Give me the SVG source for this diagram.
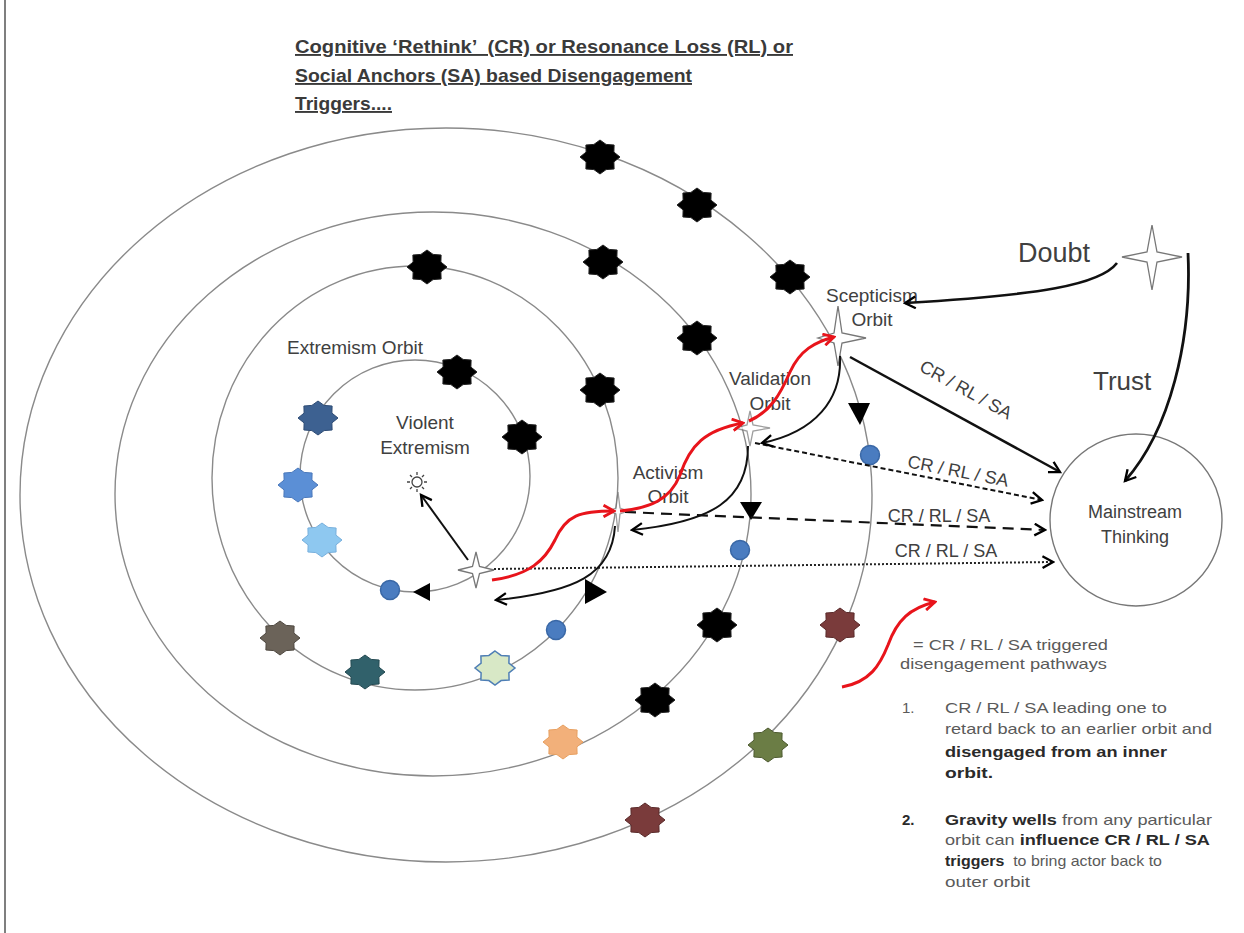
<svg xmlns="http://www.w3.org/2000/svg" xmlns:xlink="http://www.w3.org/1999/xlink" width="1244" height="933" viewBox="0 0 1244 933">
<style>
.orbit{fill:none;stroke:#8a8a8a;stroke-width:1.4}
.lbl{font-family:"Liberation Sans",Arial,sans-serif;fill:#404040}
.title{font-family:"Liberation Sans",Arial,sans-serif;font-weight:bold;font-size:19px;fill:#3a3a3a;text-decoration:underline}
.leg{font-family:"Liberation Sans",Arial,sans-serif;font-size:15px;fill:#5a5a5a}
.legb{font-weight:bold;fill:#2a2a2a}
.blk{fill:#000;stroke:#222;stroke-width:1}
.dot{fill:#4a7cc0;stroke:#3a68a6;stroke-width:1.5}
.tri{fill:#000}
.star4{fill:#fff;stroke:#777;stroke-width:1.3}
.red{fill:none;stroke:#e8141b;stroke-width:3;marker-end:url(#aRed)}
.ret{fill:none;stroke:#111;stroke-width:2;marker-end:url(#aBlk)}
</style>
<defs>
<path id="s8" d="M0,-17 L6.1,-12.6 L14.1,-12 L13.9,-4.9 L20,0 L13.9,4.9 L14.1,12 L6.1,12.6 L0,17 L-6.1,12.6 L-14.1,12 L-13.9,4.9 L-20,0 L-13.9,-4.9 L-14.1,-12 L-6.1,-12.6 Z"/>
<marker id="aBlk" viewBox="0 0 12 12" refX="10" refY="6" markerWidth="14" markerHeight="14" markerUnits="userSpaceOnUse" orient="auto">
<path d="M1,1 L10,6 L1,11" fill="none" stroke="#000" stroke-width="2"/>
</marker>
<marker id="aRed" viewBox="0 0 12 12" refX="10" refY="6" markerWidth="14" markerHeight="14" markerUnits="userSpaceOnUse" orient="auto">
<path d="M1,1 L10,6 L1,11" fill="none" stroke="#e8141b" stroke-width="2.4"/>
</marker>
</defs>
<rect x="0" y="0" width="1244" height="933" fill="#fff"/>
<line x1="5" y1="0" x2="5" y2="933" stroke="#555" stroke-width="1.5"/>

<g id="title">
<text class="title" x="295" y="53" textLength="498" lengthAdjust="spacingAndGlyphs" xml:space="preserve">Cognitive ‘Rethink’  (CR) or Resonance Loss (RL) or</text>
<text class="title" x="295" y="82" textLength="397" lengthAdjust="spacingAndGlyphs">Social Anchors (SA) based Disengagement</text>
<text class="title" x="295" y="110" textLength="97" lengthAdjust="spacingAndGlyphs">Triggers....</text>
</g>

<g id="scepticism-orbit">
<ellipse class="orbit" cx="446" cy="495" rx="426" ry="367"/>
<use href="#s8" x="600" y="157" class="blk"/>
<use href="#s8" x="697" y="205" class="blk"/>
<use href="#s8" x="790" y="277" class="blk"/>
<use href="#s8" x="840" y="625" fill="#7a3b3b" stroke="#5a2a2a"/>
<use href="#s8" x="768" y="745" fill="#6b7d45" stroke="#4d5a30"/>
<use href="#s8" x="645" y="820" fill="#7a3b3b" stroke="#5a2a2a"/>
<circle class="dot" cx="870" cy="455" r="9.5"/>
<polygon class="tri" points="848,403 870,403 860,425"/>
<path class="star4" d="M838,306 L842,333 L866,338 L842,343 L838,366 L834,343 L818,338 L834,333 Z"/>
<text class="lbl" font-size="19" x="872" y="302" text-anchor="middle">Scepticism</text>
<text class="lbl" font-size="19" x="872" y="326" text-anchor="middle">Orbit</text>
</g>

<g id="validation-orbit">
<ellipse class="orbit" cx="433" cy="494" rx="318" ry="282"/>
<use href="#s8" x="603" y="262" class="blk"/>
<use href="#s8" x="697" y="338" class="blk"/>
<use href="#s8" x="717" y="625" class="blk"/>
<use href="#s8" x="655" y="700" class="blk"/>
<use href="#s8" x="563" y="742" fill="#f2b07a" stroke="#e8a060"/>
<circle class="dot" cx="740" cy="550" r="9.5"/>
<polygon class="tri" points="740,502 762,502 751,520"/>
<path class="star4" d="M750,411 L753,425 L770,428 L753,431 L750,446 L747,431 L735,428 L747,425 Z" opacity="0.7"/>
<text class="lbl" font-size="19" x="770" y="385" text-anchor="middle">Validation</text>
<text class="lbl" font-size="19" x="770" y="410" text-anchor="middle">Orbit</text>
</g>

<g id="activism-orbit">
<ellipse class="orbit" cx="415" cy="478" rx="203" ry="212"/>
<use href="#s8" x="427" y="267" class="blk"/>
<use href="#s8" x="600" y="390" class="blk"/>
<use href="#s8" x="495" y="668" fill="#d8e8c6" stroke="#4f7fb5" stroke-width="1.5"/>
<use href="#s8" x="365" y="672" fill="#31616b" stroke="#244a52"/>
<use href="#s8" x="280" y="638" fill="#6b6359" stroke="#4e4840"/>
<circle class="dot" cx="556" cy="630" r="9.5"/>
<polygon class="tri" points="585,579 585,604 607,592"/>
<path class="star4" d="M618,492 L620,508 L628,511 L620,514 L618,532 L616,514 L608,511 L616,508 Z" opacity="0.7"/>
<text class="lbl" font-size="19" x="668" y="479" text-anchor="middle">Activism</text>
<text class="lbl" font-size="19" x="668" y="503" text-anchor="middle">Orbit</text>
</g>

<g id="extremism-orbit">
<ellipse class="orbit" cx="415" cy="476" rx="115" ry="116"/>
<use href="#s8" x="457" y="372" class="blk"/>
<use href="#s8" x="522" y="437" class="blk"/>
<use href="#s8" x="318" y="418" fill="#3d6191" stroke="#2e4c75"/>
<use href="#s8" x="298" y="485" fill="#5b8fd6" stroke="#4a78bb"/>
<use href="#s8" x="322" y="540" fill="#8ec8f0" stroke="#78b0dd"/>
<circle class="dot" cx="390" cy="590" r="9.5"/>
<polygon class="tri" points="413,592 430,583 430,601"/>
<text class="lbl" font-size="18" x="287" y="354" textLength="136" lengthAdjust="spacingAndGlyphs" fill="#555">Extremism Orbit</text>
</g>

<g id="violent-extremism">
<text class="lbl" font-size="19" x="425" y="429" text-anchor="middle">Violent</text>
<text class="lbl" font-size="19" x="425" y="454" text-anchor="middle">Extremism</text>
<g stroke="#444" stroke-width="1.3" fill="#fff">
<circle cx="417" cy="482" r="5"/>
<path d="M417,472 L417,475 M417,489 L417,492 M407,482 L410,482 M424,482 L427,482 M410,475 L412,477 M422,487 L424,489 M410,489 L412,487 M422,477 L424,475" fill="none"/>
</g>
<path class="star4" d="M476,552 L479.5,566.5 L494,570 L479.5,573.5 L476,588 L472.5,573.5 L458,570 L472.5,566.5 Z"/>
</g>

<g id="mainstream-thinking">
<circle cx="1136" cy="520" r="86" fill="none" stroke="#777" stroke-width="1.4"/>
<text class="lbl" font-size="18" x="1135" y="518" text-anchor="middle">Mainstream</text>
<text class="lbl" font-size="18" x="1135" y="543" text-anchor="middle">Thinking</text>
</g>

<g id="doubt">
<text class="lbl" font-size="27" x="1018" y="262" fill="#333">Doubt</text>
<path class="star4" d="M1152,225 L1157,252 L1182,257 L1157,262 L1152,290 L1147,262 L1122,257 L1147,252 Z" stroke="#555" stroke-width="1.6"/>
</g>

<g id="trust">
<text class="lbl" font-size="26" x="1093" y="390" fill="#333">Trust</text>
</g>

<g id="connectors">
<line x1="468" y1="560" x2="421" y2="495" stroke="#111" stroke-width="2" marker-end="url(#aBlk)"/>
<path d="M494,569 L1053,562" fill="none" stroke="#222" stroke-width="2" stroke-dasharray="2,2" marker-end="url(#aBlk)"/>
<path d="M625,512 L1045,530" fill="none" stroke="#111" stroke-width="2.2" stroke-dasharray="11,7" marker-end="url(#aBlk)"/>
<path d="M755,443 L1042,500" fill="none" stroke="#111" stroke-width="2" stroke-dasharray="5,3" marker-end="url(#aBlk)"/>
<path d="M850,357 L1060,472" fill="none" stroke="#111" stroke-width="2.5" marker-end="url(#aBlk)"/>
<path d="M1117,263 C1100,285 1040,295 905,303" fill="none" stroke="#111" stroke-width="2.6" marker-end="url(#aBlk)"/>
<path d="M1188,253 C1192,340 1170,430 1125,481" fill="none" stroke="#111" stroke-width="2.8" marker-end="url(#aBlk)"/>
<path class="red" d="M492,580 C530,575 545,560 555,540 C566,515 580,511 614,511"/>
<path class="red" d="M620,511 C650,508 670,500 680,475 C690,445 705,430 743,423"/>
<path class="red" d="M749,421 C770,412 780,395 790,372 C800,350 815,342 834,337"/>
<path class="ret" d="M840,356 C842,400 815,432 762,443"/>
<path class="ret" d="M748,446 C748,500 712,522 632,530"/>
<path class="ret" d="M615,526 C612,575 575,592 496,600"/>
<text class="lbl" font-size="18" x="946" y="557" text-anchor="middle">CR / RL / SA</text>
<text class="lbl" font-size="18" x="939" y="522" text-anchor="middle">CR / RL / SA</text>
<text class="lbl" font-size="18" transform="translate(957,477) rotate(11)" text-anchor="middle">CR / RL / SA</text>
<text class="lbl" font-size="18" transform="translate(963,395) rotate(29)" text-anchor="middle">CR / RL / SA</text>
</g>

<g id="legend">
<path class="red" d="M842,687 C870,682 880,665 888,645 C897,620 910,608 935,602"/>
<text class="leg" x="913" y="650" textLength="195" lengthAdjust="spacingAndGlyphs">= CR / RL / SA triggered</text>
<text class="leg" x="900" y="669" textLength="207" lengthAdjust="spacingAndGlyphs">disengagement pathways</text>
<text class="leg" x="902" y="713">1.</text>
<text class="leg" x="945" y="713" textLength="222" lengthAdjust="spacingAndGlyphs">CR / RL / SA leading one to</text>
<text class="leg" x="945" y="734" textLength="267" lengthAdjust="spacingAndGlyphs">retard back to an earlier orbit and</text>
<text class="leg legb" x="945" y="757" textLength="222" lengthAdjust="spacingAndGlyphs">disengaged from an inner</text>
<text class="leg legb" x="945" y="778" textLength="48" lengthAdjust="spacingAndGlyphs">orbit.</text>
<text class="leg legb" x="902" y="825">2.</text>
<text class="leg" x="945" y="825" textLength="267" lengthAdjust="spacingAndGlyphs"><tspan class="legb">Gravity wells</tspan> from any particular</text>
<text class="leg" x="945" y="845" textLength="265" lengthAdjust="spacingAndGlyphs">orbit can <tspan class="legb">influence CR / RL / SA</tspan></text>
<text class="leg" x="945" y="866" textLength="217" lengthAdjust="spacingAndGlyphs" xml:space="preserve"><tspan class="legb">triggers</tspan>  to bring actor back to</text>
<text class="leg" x="945" y="887" textLength="85" lengthAdjust="spacingAndGlyphs">outer orbit</text>
</g>
</svg>
